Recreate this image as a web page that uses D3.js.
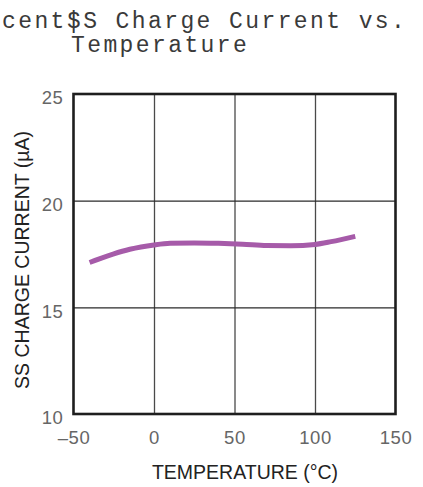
<!DOCTYPE html>
<html>
<head>
<meta charset="utf-8">
<script src="https://cdn.jsdelivr.net/npm/d3@7"></script>
<style>
  body { margin: 0; background: #fff; }
  .title { font-family: "Liberation Mono", "Courier New", monospace; font-size: 23px; letter-spacing: 2.4px; fill: #3a3a3a; }
  .tick-label { font-family: "Liberation Sans", Arial, sans-serif; font-size: 18.5px; fill: #666; letter-spacing: 0.6px; }
  .axis-title { font-family: "Liberation Sans", Arial, sans-serif; font-size: 19.5px; fill: #222; }
</style>
</head>
<body>
<div class="chart-div"></div>
<script>
// data
const temperature = [-40, -15, 0, 10, 25, 40, 55, 70, 85, 100, 110, 125];
const ssCurrent = [17.1, 17.72, 17.92, 18.0, 18.02, 18.0, 17.96, 17.9, 17.89, 17.95, 18.08, 18.33];
const xTicks = [-50, 0, 50, 100, 150];
const yTicks = [10, 15, 20, 25];

const svgWidth = 423;
const svgHeight = 487;
const margin = { top: 94, right: 27.5, bottom: 73, left: 73.5 };
const width = svgWidth - margin.left - margin.right;
const height = svgHeight - margin.top - margin.bottom;

const data = temperature.map((t, i) => ({ t: t, v: ssCurrent[i] }));

const root = d3
  .select(".chart-div")
  .append("svg")
  .attr("width", svgWidth)
  .attr("height", svgHeight);

// title (overlapping fragment of a neighbouring title on the left)
root.append("text").attr("class", "title").attr("x", 2).attr("y", 28).text("cent|");
root.append("text").attr("class", "title").attr("x", 67).attr("y", 28).text("SS Charge Current vs.");
root.append("text").attr("class", "title").attr("x", 71).attr("y", 52).text("Temperature");

const svg = root
  .append("g")
  .attr("transform", "translate(" + margin.left + "," + margin.top + ")");

const x = d3.scaleLinear().domain([-50, 150]).range([0, width]);
const y = d3.scaleLinear().domain([10, 25]).range([height, 0]);

// gridlines
svg
  .append("g")
  .attr("class", "grid")
  .attr("transform", "translate(0," + height + ")")
  .call(d3.axisBottom(x).tickValues(xTicks.slice(1, -1)).tickSize(-height).tickFormat(""))
  .call(g => g.select(".domain").remove())
  .call(g => g.selectAll("line").attr("stroke", "#4a4a4a").attr("stroke-width", 1.3));

svg
  .append("g")
  .attr("class", "grid")
  .call(d3.axisLeft(y).tickValues(yTicks.slice(1, -1)).tickSize(-width).tickFormat(""))
  .call(g => g.select(".domain").remove())
  .call(g => g.selectAll("line").attr("stroke", "#2a2a2a").attr("stroke-width", 1.2));

// the curve
const valueline = d3
  .line()
  .x(d => x(d.t))
  .y(d => y(d.v))
  .curve(d3.curveMonotoneX);

svg
  .append("path")
  .datum(data)
  .attr("fill", "none")
  .attr("stroke", "#a65ba9")
  .attr("stroke-width", 5)
  .attr("d", valueline);

// frame
svg
  .append("rect")
  .attr("width", width)
  .attr("height", height)
  .attr("fill", "none")
  .attr("stroke", "#1e1e1e")
  .attr("stroke-width", 2.6);

// tick labels
svg
  .append("g")
  .attr("transform", "translate(0," + height + ")")
  .call(d3.axisBottom(x).tickValues(xTicks).tickSize(0).tickFormat(d => (d < 0 ? "\u201350" : d)))
  .call(g => g.select(".domain").remove())
  .call(g => g.selectAll("text").attr("class", "tick-label").attr("fill", null).attr("y", 30).attr("dy", 0));

svg
  .append("g")
  .call(d3.axisLeft(y).tickValues(yTicks).tickSize(0).tickPadding(10))
  .call(g => g.select(".domain").remove())
  .call(g => g.selectAll("text").attr("class", "tick-label").attr("fill", null).attr("dy", "0.32em").attr("y", 4));

// axis titles
root
  .append("text")
  .attr("class", "axis-title")
  .attr("text-anchor", "middle")
  .attr("x", 245)
  .attr("y", 479)
  .text("TEMPERATURE (\u00b0C)");

root
  .append("text")
  .attr("class", "axis-title")
  .attr("text-anchor", "middle")
  .attr("transform", "translate(29,260) rotate(-90)")
  .text("SS CHARGE CURRENT (\u00b5A)");
</script>
</body>
</html>
